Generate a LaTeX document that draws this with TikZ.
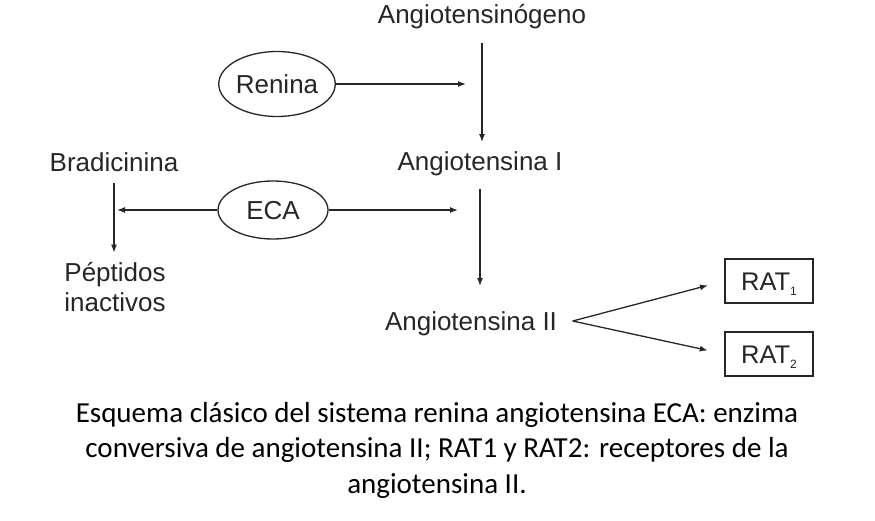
\documentclass[tikz,border=0pt]{standalone}
\usepackage{fontspec}
\setmainfont{Liberation Sans}
\newfontfamily\capfont{Carlito}
\usepackage{tikz}
\usetikzlibrary{arrows.meta,positioning,shapes.geometric}

\newcommand{\ratsub}[1]{\raisebox{-5pt}{\fontsize{12}{12}\selectfont #1}}

\begin{document}
\begin{tikzpicture}[x=1pt,y=-1pt,>={Latex[length=8pt,width=6pt]},line width=1.3pt,
  mol/.style={font=\fontsize{26}{30}\selectfont,text=black!85,inner sep=0pt,
    text height=18.7pt,text depth=0pt},
  pep/.style={font=\fontsize{26}{30}\selectfont,text=black!85,inner sep=0pt,align=left},
  enz/.style={ellipse,draw=black!85,mol,minimum width=115pt,minimum height=65pt},
  rat/.style={draw=black!85,font=\fontsize{25.5}{28}\selectfont,text=black!85,inner sep=0pt,
    text height=18.3pt,text depth=0pt,minimum width=88pt,minimum height=44pt,line width=1.2pt},
  captxt/.style={font=\capfont\fontsize{29}{35.5}\selectfont,align=center,inner sep=0pt},
  conn/.style={->,draw=black!85}]
\useasboundingbox (0,0) rectangle (875,520);

% cascade
\node[mol] (agn) at (482,14) {Angiotensinógeno};
\node[mol] (ang1) at (480,161) {Angiotensina I};
\node[mol] (ang2) at (471,321) {Angiotensina II};
\node[mol] (brad) at (114,162) {Bradicinina};
\node[pep] (pep) at (115,287) {Péptidos\\inactivos};

% enzymes
\node[enz] (ren) at (277,84) {Renina};
\node[enz,minimum width=110pt,minimum height=58pt] (eca) at (273,210) {ECA};

% receptors
\node[rat] (rat1) at (769,281) {RAT\ratsub{1}};
\node[rat] (rat2) at (769,354) {RAT\ratsub{2}};
\coordinate (fork) at ([xshift=15pt]ang2.east);

\draw[conn,shorten <=19pt,shorten >=9pt] (agn.south) -- (agn.south |- ang1.north);
\draw[conn,shorten <=18pt,shorten >=25pt] (ang1.south) -- (ang1.south |- ang2.north);
\draw[conn,shorten >=16pt] (ren.east) -- (ren.east -| agn.south);
\draw[conn,shorten >=22pt] (eca.east) -- (eca.east -| ang1.south);
\draw[conn,shorten >=3pt] (eca.west) -- (eca.west -| brad.south);
\draw[conn,shorten <=11pt,shorten >=9pt] (brad.south) -- (brad.south |- pep.north);
\draw[conn,shorten >=17pt] (fork) -- (rat1.west);
\draw[conn,shorten >=17pt] (fork) -- (rat2.west);

\node[captxt] (caption) at (437,450) {Esquema clásico del sistema renina angiotensina ECA: enzima\\
  conversiva de angiotensina II; RAT1 y RAT2: receptores de la\\
  angiotensina II.};

\end{tikzpicture}
\end{document}
